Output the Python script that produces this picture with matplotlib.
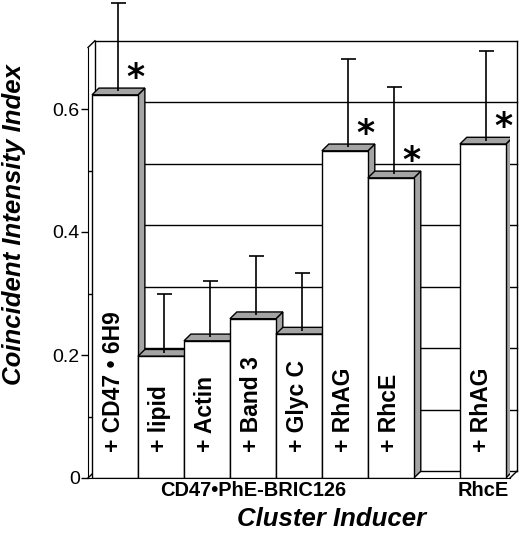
import matplotlib
matplotlib.use('Agg')
import matplotlib.pyplot as plt
from matplotlib.patches import Polygon
import numpy as np

plt.rcParams['font.family'] = ['Liberation Sans', 'DejaVu Sans']

# data
positions = [0, 1, 2, 3, 4, 5, 6, 8]
labels = ['+ CD47 • 6H9', '+ lipid', '+ Actin', '+ Band 3', '+ Glyc C', '+ RhAG', '+ RhcE', '+ RhAG']
values = [0.623, 0.198, 0.223, 0.259, 0.234, 0.532, 0.488, 0.543]
errors = [0.144, 0.096, 0.092, 0.097, 0.094, 0.143, 0.143, 0.145]
signif = [True, False, False, False, False, True, True, True]
groups = ['CD47•PhE-BRIC126', 'RhcE']
group_pos = [3, 8]
yticks = [0, 0.2, 0.4, 0.6]
yticklabels = ['0', '0.2', '0.4', '0.6']

# 3d look
dx, dy = 0.15, 0.011
xl, xr = -0.587, 8.59
ytop = 0.7
grey = '#a4a4a4'

fig = plt.figure(figsize=(5.2, 5.33), dpi=100)
ax = fig.add_axes([88/520, 55/533, 422/520, 0.7*615/533])
ax.set_xlim(xl, xr)
ax.set_ylim(0, ytop)

# back wall, floor and gridlines
for g in [0.1, 0.2, 0.3, 0.4, 0.5, 0.6]:
    ax.plot([xl+dx, xr+dx], [g+dy, g+dy], color='black', lw=1, zorder=1, clip_on=False)
frame = [
    ([xl+dx, xr+dx], [ytop+dy, ytop+dy]),
    ([xl, xl+dx], [ytop, ytop+dy]),
    ([xl+dx, xl+dx], [dy, ytop+dy]),
    ([xl, xl+dx], [0, dy]),
    ([xl+dx, xr+dx], [dy, dy]),
    ([xr+dx, xr+dx], [dy, ytop+dy]),
    ([xr, xr+dx], [0, dy]),
]
for fx, fy in frame:
    ax.plot(fx, fy, color='black', lw=1, zorder=1, clip_on=False)

bars = ax.bar(positions, values, width=1.0, color='white', edgecolor='black', lw=1)
for k, (p, v) in enumerate(zip(positions, values)):
    side = Polygon([(p+0.5, 0), (p+0.5+dx, dy), (p+0.5+dx, v+dy), (p+0.5, v)],
                   closed=True, facecolor=grey, edgecolor='black', lw=1, zorder=3+2*k)
    top = Polygon([(p-0.5, v), (p+0.5, v), (p+0.5+dx, v+dy), (p-0.5+dx, v+dy)],
                  closed=True, facecolor=grey, edgecolor='black', lw=1, zorder=3+2*k)
    ax.add_patch(side)
    ax.add_patch(top)
    bars[k].set_zorder(4+2*k)
    ax.text(p-0.03, 0.042, labels[k], rotation=90, ha='center', va='bottom',
            fontsize=16.5, fontweight='bold', zorder=40)
    if signif[k]:
        ax.text(p+0.44, v+0.028, '*', ha='center', va='center', fontsize=25,
                family='DejaVu Sans', fontweight='bold', zorder=40)

# upper error bars only
ex = np.array(positions) + dx/2
ey = np.array(values) + dy/2
etop = ey + np.array(errors)
ax.vlines(ex, ey, etop, color='black', lw=1.2, zorder=50, clip_on=False)
ax.hlines(etop, ex-0.17, ex+0.17, color='black', lw=1.2, zorder=50, clip_on=False)

for sp in ['top', 'right']:
    ax.spines[sp].set_visible(False)
ax.spines['left'].set_zorder(60)
ax.spines['bottom'].set_zorder(60)
ax.set_xticks([])
ax.set_yticks(yticks)
ax.set_yticklabels(yticklabels, fontsize=14)
ax.set_yticks([0.1, 0.3, 0.5], minor=True)
ax.tick_params(axis='y', which='major', direction='out', length=5, width=1, pad=1)
ax.tick_params(axis='y', which='minor', direction='in', length=3, width=1)

for gname, gp in zip(groups, group_pos):
    ax.text(gp, -0.028, gname, transform=ax.get_xaxis_transform(), ha='center', va='center',
            fontsize=14.4, fontweight='bold')

fig.text(14/520, 1-224/533, 'Coincident Intensity Index', rotation=90, ha='center', va='center',
         fontsize=18.5, fontweight='bold', fontstyle='italic')
fig.text(332/520, 1-519/533, 'Cluster Inducer', ha='center', va='center',
         fontsize=18.5, fontweight='bold', fontstyle='italic')

fig.savefig('out.png', dpi=100)
